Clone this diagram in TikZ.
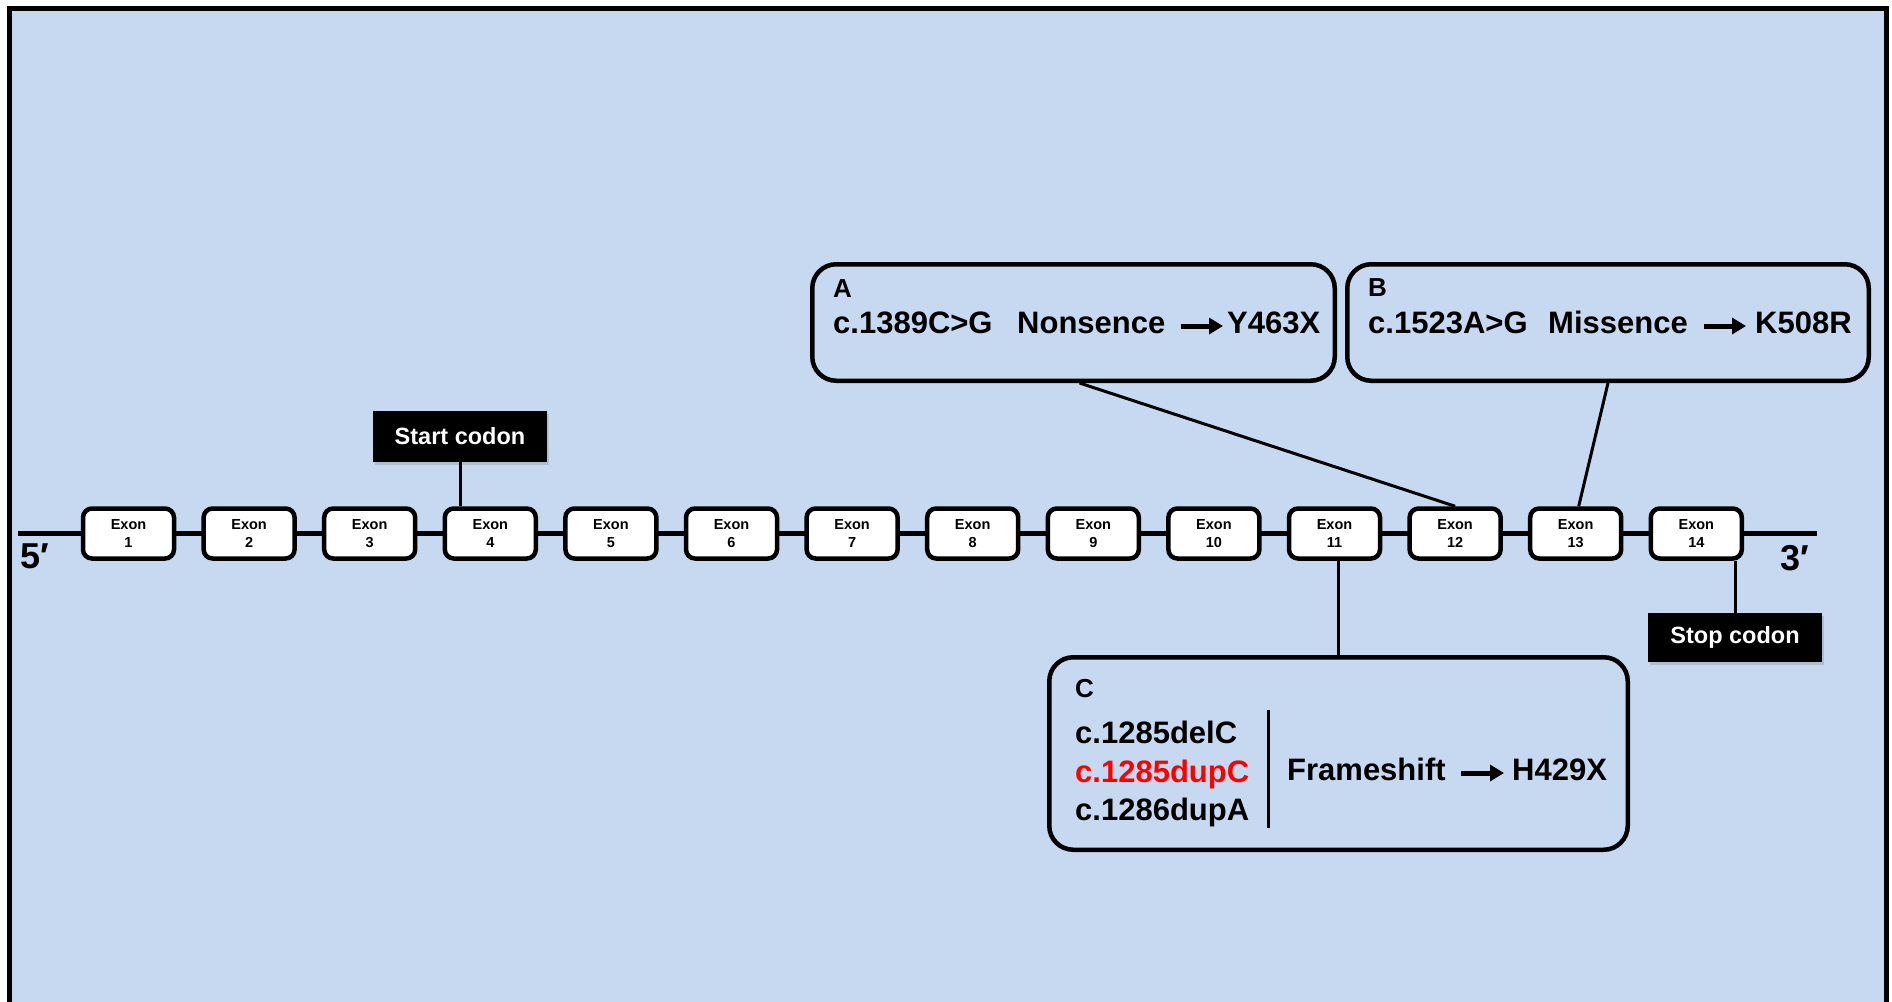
\documentclass[tikz,border=0pt]{standalone}
\usepackage{fontspec}
\setmainfont{Liberation Sans}
\usetikzlibrary{shadows,arrows.meta}
\definecolor{bgblue}{HTML}{C6D9F0}
\definecolor{mutred}{HTML}{FF0000}
\begin{document}
\begin{tikzpicture}[x=1pt,y=-1pt,
  exon/.style={draw, fill=white, line width=4.5pt, rounded corners=9pt, minimum width=91pt, minimum height=50pt, inner sep=0pt, align=center, font=\bfseries\fontsize{14.5}{18}\selectfont},
  mutbox/.style={draw, line width=4.5pt, rounded corners=24pt, inner sep=0pt},
  codon/.style={fill=black, text=white, font=\bfseries\fontsize{23.5}{28}\selectfont, inner sep=0pt, drop shadow={shadow xshift=2pt, shadow yshift=-3pt, opacity=0.3}},
  conn/.style={line width=3pt},
  txt/.style={anchor=base west, inner sep=0pt, font=\bfseries\fontsize{31}{37}\selectfont},
  lbl/.style={anchor=base west, inner sep=0pt, font=\bfseries\fontsize{26}{31}\selectfont},
  endlbl/.style={anchor=base west, inner sep=0pt, font=\bfseries\fontsize{36}{43}\selectfont},
  arr/.style={line width=5pt, -{Triangle[length=14pt,width=16pt]}},
]
\useasboundingbox (0,0) rectangle (1892,1001);
\fill[white] (0,0) rectangle (1892,1001);
\draw[line width=5pt, fill=bgblue] (9.8,8.5) rectangle (1886,1030);

% main strand
\coordinate (p5) at (18,533);
\coordinate (p3) at (1817,533);
\draw[line width=5pt] (p5) -- (p3);

% exons
\foreach \i in {1,...,14} {
  \node[exon] (e\i) at ({128.5+(\i-1)*120.6}, 533.5) {Exon\\\i};
}

\node[endlbl] (five) at (20,568) {5′};
\node[endlbl] (three) at (1780,570) {3′};

% codon boxes
\node[codon, minimum width=174pt, minimum height=51pt] (start) at (460,436.5) {Start codon};
\node[codon, minimum width=174pt, minimum height=49pt] (stop) at (1735,637.5) {Stop codon};

% mutation boxes
\node[mutbox, minimum width=522.5pt, minimum height=116.5pt] (boxA) at (1073.5,322.5) {};
\node[mutbox, minimum width=521.5pt, minimum height=116.5pt] (boxB) at (1608,322.5) {};
\node[mutbox, minimum width=578.5pt, minimum height=192.5pt] (boxC) at (1338.5,753.5) {};

% box A text
\node[lbl] (la) at (833,297) {A};
\node[txt] (a1) at (833,333) {c.1389C>G};
\node[txt] (a2) at (1017,333) {Nonsence};
\node[txt] (a3) at (1227,333) {Y463X};
\draw[arr] ([xshift=15pt,yshift=7pt]a2.base east) -- ([xshift=-4pt,yshift=7pt]a3.base west);

% box B text
\node[lbl] (lb) at (1368,296) {B};
\node[txt] (b1) at (1368,333) {c.1523A>G};
\node[txt] (b2) at (1548,333) {Missence};
\node[txt] (b3) at (1755,333) {K508R};
\draw[arr] ([xshift=16pt,yshift=7pt]b2.base east) -- ([xshift=-9pt,yshift=7pt]b3.base west);

% box C text
\node[lbl] (lc) at (1075,697) {C};
\node[txt] (c1) at (1075,743) {c.1285delC};
\node[txt, text=mutred] (c2) at (1075,782) {c.1285dupC};
\node[txt] (c3) at (1075,820) {c.1286dupA};
\coordinate (bt) at (1268,710);
\coordinate (bb) at (1268,828);
\draw[conn] (bt) -- (bb);
\node[txt] (c4) at (1287,780) {Frameshift};
\node[txt] (c5) at (1512,780) {H429X};
\draw[arr] ([xshift=15pt,yshift=7pt]c4.base east) -- ([xshift=-8pt,yshift=7pt]c5.base west);

% connectors
\draw[conn] (start.south) -- (start.south |- e4.north);
\draw[conn] (stop.north) -- (stop.north |- e14.south);
\draw[conn] ([xshift=6pt]boxA.south) -- (e12.north);
\draw[conn] (boxB.south) -- ([xshift=3pt]e13.north);
\draw[conn] (boxC.north) -- (boxC.north |- e11.south);
\end{tikzpicture}
\end{document}
